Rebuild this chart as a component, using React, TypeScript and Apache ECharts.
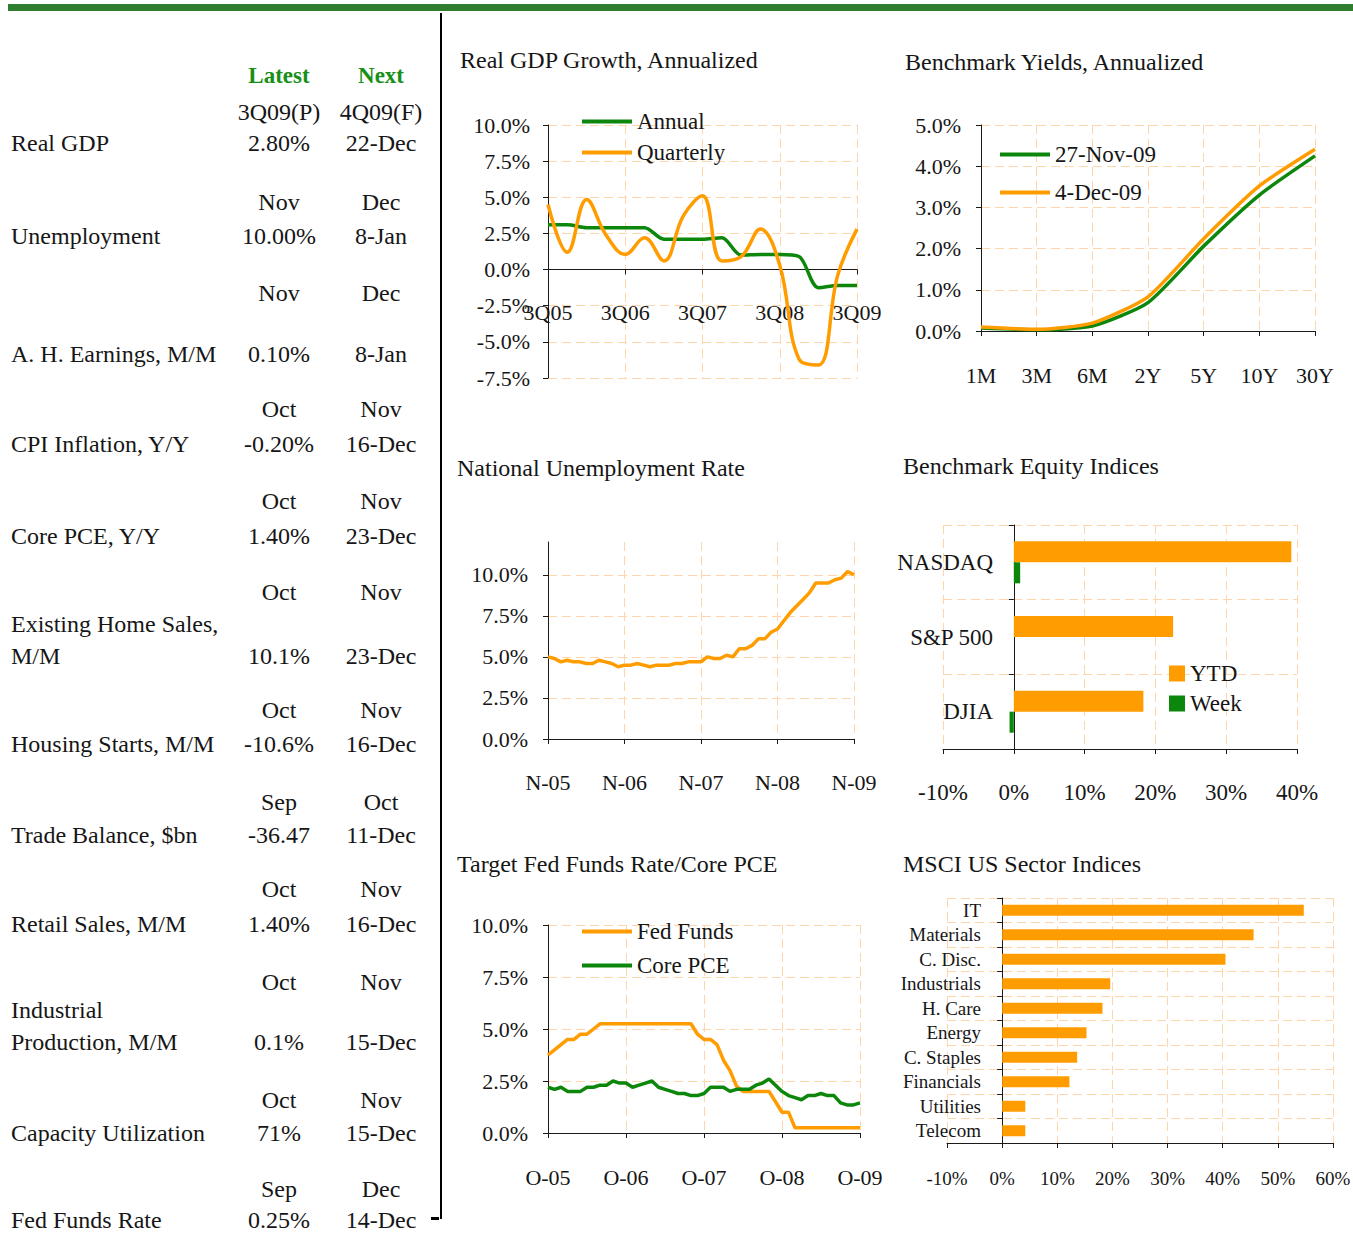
import React, { useEffect, useRef } from 'react';
import * as echarts from 'echarts';

// ---------------- DATA ----------------
const GDP_QUARTERS = ['3Q05', '4Q05', '1Q06', '2Q06', '3Q06', '4Q06', '1Q07', '2Q07', '3Q07', '4Q07', '1Q08', '2Q08', '3Q08', '4Q08', '1Q09', '2Q09', '3Q09'];
const GDP_ANNUAL = [3.1, 3.1, 2.9, 2.9, 2.9, 2.9, 2.1, 2.1, 2.1, 2.2, 1.0, 1.05, 1.05, 0.9, -1.25, -1.1, -1.1];
const GDP_QUARTERLY = [4.5, 1.2, 4.85, 2.4, 1.05, 2.2, 0.6, 3.7, 5.1, 0.6, 0.9, 2.8, 0.3, -6.2, -6.6, -0.4, 2.8];

const YIELD_TENORS = ['1M', '3M', '6M', '2Y', '5Y', '10Y', '30Y'];
const YIELD_27NOV = [0.07, 0.03, 0.12, 0.69, 2.06, 3.30, 4.25];
const YIELD_4DEC = [0.10, 0.04, 0.19, 0.83, 2.24, 3.52, 4.41];

const UNEMP_MONTHS = [
  'Nov-05', 'Dec-05',
  'Jan-06', 'Feb-06', 'Mar-06', 'Apr-06', 'May-06', 'Jun-06', 'Jul-06', 'Aug-06', 'Sep-06', 'Oct-06', 'Nov-06', 'Dec-06',
  'Jan-07', 'Feb-07', 'Mar-07', 'Apr-07', 'May-07', 'Jun-07', 'Jul-07', 'Aug-07', 'Sep-07', 'Oct-07', 'Nov-07', 'Dec-07',
  'Jan-08', 'Feb-08', 'Mar-08', 'Apr-08', 'May-08', 'Jun-08', 'Jul-08', 'Aug-08', 'Sep-08', 'Oct-08', 'Nov-08', 'Dec-08',
  'Jan-09', 'Feb-09', 'Mar-09', 'Apr-09', 'May-09', 'Jun-09', 'Jul-09', 'Aug-09', 'Sep-09', 'Oct-09', 'Nov-09',
];
const UNEMP_RATE = [
  5.0, 4.9,
  4.7, 4.8, 4.7, 4.7, 4.6, 4.6, 4.8, 4.7, 4.6, 4.4, 4.5, 4.5,
  4.6, 4.5, 4.4, 4.5, 4.5, 4.5, 4.6, 4.6, 4.7, 4.7, 4.7, 5.0,
  4.9, 4.9, 5.1, 5.0, 5.5, 5.5, 5.7, 6.1, 6.1, 6.5, 6.7, 7.2,
  7.7, 8.1, 8.5, 8.9, 9.5, 9.5, 9.5, 9.7, 9.8, 10.2, 10.0,
];

const EQUITY_INDICES = ['DJIA', 'S&P 500', 'NASDAQ'];
const EQUITY_YTD = [18.3, 22.5, 39.2];
const EQUITY_WEEK = [-0.6, 0.0, 0.9];

const FED_MONTHS = [
  'Oct-05', 'Nov-05', 'Dec-05',
  'Jan-06', 'Feb-06', 'Mar-06', 'Apr-06', 'May-06', 'Jun-06', 'Jul-06', 'Aug-06', 'Sep-06', 'Oct-06', 'Nov-06', 'Dec-06',
  'Jan-07', 'Feb-07', 'Mar-07', 'Apr-07', 'May-07', 'Jun-07', 'Jul-07', 'Aug-07', 'Sep-07', 'Oct-07', 'Nov-07', 'Dec-07',
  'Jan-08', 'Feb-08', 'Mar-08', 'Apr-08', 'May-08', 'Jun-08', 'Jul-08', 'Aug-08', 'Sep-08', 'Oct-08', 'Nov-08', 'Dec-08',
  'Jan-09', 'Feb-09', 'Mar-09', 'Apr-09', 'May-09', 'Jun-09', 'Jul-09', 'Aug-09', 'Sep-09', 'Oct-09',
];
const FED_FUNDS = [
  3.75, 4.0, 4.25,
  4.5, 4.5, 4.75, 4.75, 5.0, 5.25, 5.25, 5.25, 5.25, 5.25, 5.25, 5.25,
  5.25, 5.25, 5.25, 5.25, 5.25, 5.25, 5.25, 5.25, 4.75, 4.5, 4.5, 4.25,
  3.5, 3.0, 2.25, 2.0, 2.0, 2.0, 2.0, 2.0, 1.5, 1.0, 1.0, 0.25,
  0.25, 0.25, 0.25, 0.25, 0.25, 0.25, 0.25, 0.25, 0.25, 0.25,
];
const CORE_PCE = [
  2.2, 2.1, 2.2,
  2.0, 2.0, 2.0, 2.2, 2.2, 2.3, 2.3, 2.5, 2.4, 2.4, 2.2, 2.3,
  2.4, 2.5, 2.2, 2.1, 2.0, 1.9, 1.9, 1.8, 1.8, 1.9, 2.2, 2.2,
  2.2, 2.0, 2.1, 2.1, 2.1, 2.3, 2.4, 2.6, 2.3, 2.0, 1.8, 1.7,
  1.6, 1.8, 1.8, 1.9, 1.8, 1.8, 1.45, 1.35, 1.35, 1.45,
];

const MSCI_SECTORS = ['Telecom', 'Utilities', 'Financials', 'C. Staples', 'Energy', 'H. Care', 'Industrials', 'C. Disc.', 'Materials', 'IT'];
const MSCI_YTD = [4.2, 4.2, 12.2, 13.6, 15.3, 18.2, 19.6, 40.5, 45.6, 54.7];

const TABLE_HEADERS = ['Latest', 'Next'];
const INDICATORS = [
  ['Real GDP'],
  ['Unemployment'],
  ['A. H. Earnings, M/M'],
  ['CPI Inflation, Y/Y'],
  ['Core PCE, Y/Y'],
  ['Existing Home Sales,', 'M/M'],
  ['Housing Starts, M/M'],
  ['Trade Balance, $bn'],
  ['Retail Sales, M/M'],
  ['Industrial', 'Production, M/M'],
  ['Capacity Utilization'],
  ['Fed Funds Rate'],
];
const LATEST_PERIOD = ['3Q09(P)', 'Nov', 'Nov', 'Oct', 'Oct', 'Oct', 'Oct', 'Sep', 'Oct', 'Oct', 'Oct', 'Sep'];
const LATEST_VALUE = ['2.80%', '10.00%', '0.10%', '-0.20%', '1.40%', '10.1%', '-10.6%', '-36.47', '1.40%', '0.1%', '71%', '0.25%'];
const NEXT_PERIOD = ['4Q09(F)', 'Dec', 'Dec', 'Nov', 'Nov', 'Nov', 'Nov', 'Oct', 'Nov', 'Nov', 'Nov', 'Dec'];
const NEXT_DATE = ['22-Dec', '8-Jan', '8-Jan', '16-Dec', '23-Dec', '23-Dec', '16-Dec', '11-Dec', '16-Dec', '15-Dec', '15-Dec', '14-Dec'];

const TITLES = [
  'Real GDP Growth, Annualized',
  'Benchmark Yields, Annualized',
  'National Unemployment Rate',
  'Benchmark Equity Indices',
  'Target Fed Funds Rate/Core PCE',
  'MSCI US Sector Indices',
];

// ---------------- LAYOUT / STYLE ----------------
const FONT = '"Liberation Serif", "Times New Roman", serif';
const GREEN = '#0C870C';
const ORANGE = '#FF9C00';
const GRIDC = '#FFD5AC';
const AXISC = '#1a1a1a';
const TEXTC = '#161616';

const ROW_PERIOD_Y = [112, 202, 293, 409, 501, 592, 710, 802, 889, 982, 1100, 1189];
const ROW_VALUE_Y = [143, 236, 354, 444, 536, 656, 744, 835, 924, 1042, 1133, 1220];
const COL_LABEL_X = 11;
const COL_LATEST_X = 279;
const COL_NEXT_X = 381;
const TITLE_POS = [
  [460, 60], [905, 62], [457, 468], [903, 466], [457, 864], [903, 864],
];

const split = (extra: any = {}) => ({
  show: true,
  lineStyle: { color: GRIDC, type: [9, 5], width: 1 },
  ...extra,
});
const aLine = (onZero = true) => ({ show: true, onZero, lineStyle: { color: AXISC, width: 1 } });
const aTick = (extra: any = {}) => ({ show: true, length: 5, lineStyle: { color: AXISC, width: 1 }, ...extra });
const aLabel = (extra: any = {}) => ({ color: TEXTC, fontFamily: FONT, fontSize: 22, ...extra });
const pct1 = (v: number) => v.toFixed(1) + '%';
const monthFmt = (v: string) => v.charAt(0) + '-' + v.slice(4);

function buildGraphic() {
  const els: any[] = [];
  const txt = (text: string, x: number, y: number, font: string, align = 'left', fill = TEXTC) => ({
    type: 'text', x, y, silent: true,
    style: { text, fill, font, align, verticalAlign: 'middle' },
  });
  // top bar & divider
  els.push({ type: 'rect', shape: { x: 8, y: 4, width: 1345, height: 7 }, style: { fill: '#2F7D2F' }, silent: true });
  els.push({ type: 'rect', shape: { x: 440, y: 13, width: 2, height: 1206 }, style: { fill: '#000' }, silent: true });
  els.push({ type: 'rect', shape: { x: 431, y: 1217, width: 8, height: 3 }, style: { fill: '#000' }, silent: true });
  // titles
  TITLES.forEach((t, i) => els.push(txt(t, TITLE_POS[i][0], TITLE_POS[i][1], `24px ${FONT}`)));
  // table header
  els.push(txt(TABLE_HEADERS[0], COL_LATEST_X, 75, `bold 23px ${FONT}`, 'center', '#189018'));
  els.push(txt(TABLE_HEADERS[1], COL_NEXT_X, 75, `bold 23px ${FONT}`, 'center', '#189018'));
  const f = `24px ${FONT}`;
  INDICATORS.forEach((lines, i) => {
    const vy = ROW_VALUE_Y[i];
    lines.forEach((ln, j) => {
      els.push(txt(ln, COL_LABEL_X, vy - (lines.length - 1 - j) * 32, f));
    });
    els.push(txt(LATEST_PERIOD[i], COL_LATEST_X, ROW_PERIOD_Y[i], f, 'center'));
    els.push(txt(NEXT_PERIOD[i], COL_NEXT_X, ROW_PERIOD_Y[i], f, 'center'));
    els.push(txt(LATEST_VALUE[i], COL_LATEST_X, vy, f, 'center'));
    els.push(txt(NEXT_DATE[i], COL_NEXT_X, vy, f, 'center'));
  });
  return els;
}

function buildOption(): any {
  const legendBase = (extra: any) => ({
    orient: 'vertical', icon: 'rect', itemWidth: 50, itemHeight: 4, padding: 0,
    textStyle: { color: TEXTC, fontFamily: FONT, fontSize: 23 },
    ...extra,
  });
  const line = (name: string, data: number[], color: string, idx: number, smooth: any = false) => ({
    name, type: 'line', data, xAxisIndex: idx, yAxisIndex: idx, symbol: 'none', smooth,
    lineStyle: { color, width: 3.5 }, itemStyle: { color },
  });
  return {
    animation: false,
    textStyle: { fontFamily: FONT },
    grid: [
      { left: 548, top: 125, width: 309, height: 253, outerBoundsMode: 'none' },
      { left: 981, top: 125, width: 334, height: 206, outerBoundsMode: 'none' },
      { left: 548, top: 542, width: 306, height: 197, outerBoundsMode: 'none' },
      { left: 943, top: 525, width: 354, height: 224, outerBoundsMode: 'none' },
      { left: 548, top: 925, width: 312, height: 208, outerBoundsMode: 'none' },
      { left: 947, top: 898, width: 386, height: 245, outerBoundsMode: 'none' },
    ],
    legend: [
      legendBase({ data: ['Annual', 'Quarterly'], left: 582, top: 110, itemGap: 8 }),
      legendBase({ data: ['27-Nov-09', '4-Dec-09'], left: 1000, top: 143, itemGap: 15 }),
      legendBase({ data: ['YTD', 'Week'], left: 1169, top: 662, itemGap: 7, itemWidth: 16, itemHeight: 16 }),
      legendBase({ data: ['Fed Funds', 'Core PCE'], left: 582, top: 920, itemGap: 11 }),
    ],
    xAxis: [
      {
        // labels sit just below the zero line (the grid bottom is at -7.5%)
        gridIndex: 0, type: 'category', data: GDP_QUARTERS, boundaryGap: false,
        axisLine: aLine(true), axisTick: aTick({ interval: 3 }),
        axisLabel: aLabel({ interval: 3, margin: -77 }), splitLine: split({ interval: 3 }),
      },
      {
        gridIndex: 1, type: 'category', data: YIELD_TENORS, boundaryGap: false,
        axisLine: aLine(), axisTick: aTick(), axisLabel: aLabel({ margin: 33, interval: 0 }), splitLine: split(),
      },
      {
        gridIndex: 2, type: 'category', data: UNEMP_MONTHS, boundaryGap: false,
        axisLine: aLine(), axisTick: aTick({ interval: 11 }),
        axisLabel: aLabel({ interval: 11, margin: 32, formatter: monthFmt }), splitLine: split({ interval: 11 }),
      },
      {
        gridIndex: 3, type: 'value', min: -10, max: 40, interval: 10,
        axisLine: aLine(false), axisTick: aTick(),
        axisLabel: aLabel({ fontSize: 23, margin: 32, formatter: '{value}%' }), splitLine: split(),
      },
      {
        gridIndex: 4, type: 'category', data: FED_MONTHS, boundaryGap: false,
        axisLine: aLine(), axisTick: aTick({ interval: 11 }),
        axisLabel: aLabel({ interval: 11, margin: 33, formatter: monthFmt }), splitLine: split({ interval: 11 }),
      },
      {
        gridIndex: 5, type: 'value', min: -10, max: 60, interval: 10,
        axisLine: aLine(false), axisTick: aTick(),
        axisLabel: aLabel({ fontSize: 19, margin: 26, formatter: '{value}%' }), splitLine: split(),
      },
    ],
    yAxis: [
      {
        gridIndex: 0, type: 'value', min: -7.5, max: 10, interval: 2.5,
        axisLine: aLine(false), axisTick: aTick(), axisLabel: aLabel({ margin: 18, formatter: pct1 }), splitLine: split(),
      },
      {
        gridIndex: 1, type: 'value', min: 0, max: 5, interval: 1,
        axisLine: aLine(false), axisTick: aTick(), axisLabel: aLabel({ margin: 20, formatter: pct1 }), splitLine: split(),
      },
      {
        gridIndex: 2, type: 'value', min: 0, max: 12, interval: 2.5,
        axisLine: aLine(false), axisTick: aTick(),
        axisLabel: aLabel({ margin: 20, formatter: pct1, showMaxLabel: false }),
        splitLine: split({ showMaxLine: false }),
      },
      {
        // labels sit beside the zero line, not the grid edge
        gridIndex: 3, type: 'category', data: EQUITY_INDICES,
        axisLine: aLine(true), axisTick: aTick({ interval: 0 }),
        axisLabel: aLabel({ fontSize: 23, margin: -50, interval: 0 }), splitLine: split({ interval: 0 }),
      },
      {
        gridIndex: 4, type: 'value', min: 0, max: 10, interval: 2.5,
        axisLine: aLine(false), axisTick: aTick(), axisLabel: aLabel({ margin: 20, formatter: pct1 }), splitLine: split(),
      },
      {
        gridIndex: 5, type: 'category', data: MSCI_SECTORS,
        axisLine: aLine(true), axisTick: aTick({ interval: 0 }),
        axisLabel: aLabel({ fontSize: 19, margin: -34, interval: 0, hideOverlap: false }),
        splitLine: split({ interval: 0 }),
      },
    ],
    series: [
      line('Annual', GDP_ANNUAL, GREEN, 0, 0.3),
      line('Quarterly', GDP_QUARTERLY, ORANGE, 0, 0.4),
      line('27-Nov-09', YIELD_27NOV, GREEN, 1, 0.2),
      line('4-Dec-09', YIELD_4DEC, ORANGE, 1, 0.2),
      line('Unemployment', UNEMP_RATE, ORANGE, 2),
      {
        name: 'YTD', type: 'bar', data: EQUITY_YTD, xAxisIndex: 3, yAxisIndex: 3,
        barWidth: 21, barGap: '0%', itemStyle: { color: ORANGE },
      },
      {
        name: 'Week', type: 'bar', data: EQUITY_WEEK, xAxisIndex: 3, yAxisIndex: 3,
        barWidth: 21, barGap: '0%', itemStyle: { color: GREEN },
      },
      line('Fed Funds', FED_FUNDS, ORANGE, 4),
      line('Core PCE', CORE_PCE, GREEN, 4),
      {
        name: 'MSCI', type: 'bar', data: MSCI_YTD, xAxisIndex: 5, yAxisIndex: 5,
        barWidth: 11, itemStyle: { color: ORANGE },
      },
    ],
    graphic: { elements: buildGraphic() },
  };
}

export default function App() {
  const ref = useRef<HTMLDivElement>(null);
  useEffect(() => {
    if (!ref.current) return;
    const chart = echarts.init(ref.current, null, { renderer: 'svg' });
    chart.setOption(buildOption());
    return () => chart.dispose();
  }, []);
  return (
    <div
      ref={ref}
      style={{ position: 'absolute', left: 0, top: 0, width: 1353, height: 1234, background: '#fff' }}
    />
  );
}
